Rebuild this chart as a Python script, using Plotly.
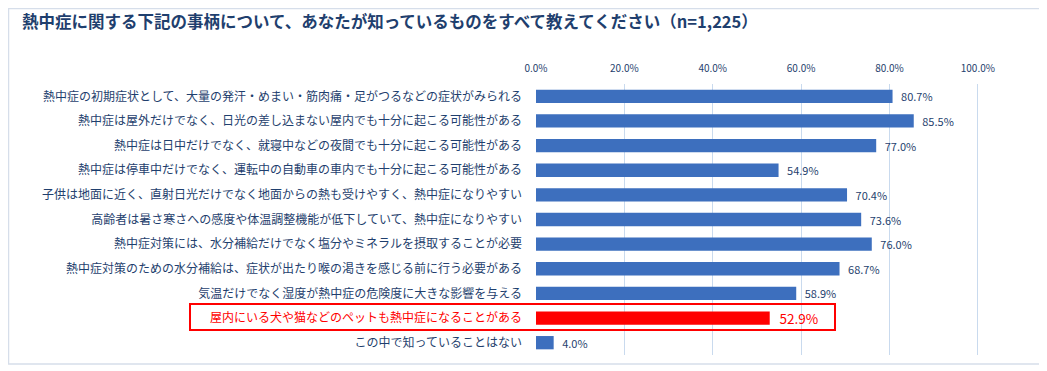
import plotly.graph_objects as go

categories = [
    "熱中症の初期症状として、大量の発汗・めまい・筋肉痛・足がつるなどの症状がみられる",
    "熱中症は屋外だけでなく、日光の差し込まない屋内でも十分に起こる可能性がある",
    "熱中症は日中だけでなく、就寝中などの夜間でも十分に起こる可能性がある",
    "熱中症は停車中だけでなく、運転中の自動車の車内でも十分に起こる可能性がある",
    "子供は地面に近く、直射日光だけでなく地面からの熱も受けやすく、熱中症になりやすい",
    "高齢者は暑さ寒さへの感度や体温調整機能が低下していて、熱中症になりやすい",
    "熱中症対策には、水分補給だけでなく塩分やミネラルを摂取することが必要",
    "熱中症対策のための水分補給は、症状が出たり喉の渇きを感じる前に行う必要がある",
    "気温だけでなく湿度が熱中症の危険度に大きな影響を与える",
    "屋内にいる犬や猫などのペットも熱中症になることがある",
    "この中で知っていることはない",
]
values = [80.7, 85.5, 77.0, 54.9, 70.4, 73.6, 76.0, 68.7, 58.9, 52.9, 4.0]
highlight_index = 9
tick_vals = [0, 20, 40, 60, 80, 100]
tick_text = ["0.0%", "20.0%", "40.0%", "60.0%", "80.0%", "100.0%"]
title_text = "熱中症に関する下記の事柄について、あなたが知っているものをすべて教えてください（n=1,225）"

BLUE = "#3D6FBE"
NAVY = "#1F3F6E"
RED = "#FF0000"
FONT = "Noto Sans CJK JP"

colors = [RED if i == highlight_index else BLUE for i in range(len(values))]
tcolors = [RED if i == highlight_index else NAVY for i in range(len(values))]
tsizes = [13.5 if i == highlight_index else 11 for i in range(len(values))]
ticklabels = [
    (f"<span style='color:{RED}'>{c}</span>" if i == highlight_index else c)
    for i, c in enumerate(categories)
]

fig = go.Figure(
    go.Bar(
        x=values,
        y=list(range(len(values))),
        orientation="h",
        marker=dict(color=colors, line=dict(width=0)),
        width=0.54,
        text=[f"{v:.1f}%" for v in values],
        texttemplate="\u2002%{text}",
        textposition="outside",
        constraintext="none",
        textfont=dict(color=tcolors, size=tsizes, family=FONT),
        cliponaxis=False,
        hoverinfo="skip",
    )
)

# page body has an 8px margin; work in reference pixels shifted by OFF
OFF = 8
W, H = 1047 - OFF, 371 - OFF
L, R, T, B = 536 - OFF, 1022 - OFF, 84 - OFF, 355 - OFF


def px(x):
    return (x - OFF - L) / (R - L)


def py(y):
    return (B - (y - OFF)) / (B - T)


fig.update_layout(
    width=W,
    height=H,
    margin=dict(l=L, r=W - R, t=T, b=H - B, autoexpand=False),
    paper_bgcolor="white",
    plot_bgcolor="white",
    showlegend=False,
    font=dict(family=FONT, color=NAVY),
    title=dict(
        text=f"<b>{title_text}</b>",
        x=(22 - OFF) / W,
        xanchor="left",
        y=1 - (22 - OFF) / H,
        yanchor="middle",
        font=dict(size=16.5, color=NAVY, family=FONT),
    ),
    xaxis=dict(
        range=[0, 110],
        side="top",
        tickvals=tick_vals,
        ticktext=tick_text,
        tickfont=dict(size=10, color=NAVY),
        ticklabelstandoff=9,
        showgrid=True,
        gridcolor="#C9DAEE",
        gridwidth=1,
        zeroline=False,
        showline=False,
        ticks="",
        automargin=False,
    ),
    yaxis=dict(
        autorange="reversed",
        tickvals=list(range(len(categories))),
        ticktext=ticklabels,
        tickfont=dict(size=12, color=NAVY),
        showgrid=False,
        zeroline=False,
        ticks="",
        ticklabelstandoff=13,
        automargin=False,
    ),
    shapes=[
        dict(type="rect", xref="paper", yref="paper",
             x0=px(8.5), x1=px(1040), y0=py(8.5), y1=py(364),
             line=dict(color="#D6DEEA", width=1.5), fillcolor="rgba(0,0,0,0)", layer="below"),
        dict(type="rect", xref="paper", yref="paper",
             x0=px(190), x1=px(835), y0=py(304), y1=py(330),
             line=dict(color=RED, width=2), fillcolor="rgba(0,0,0,0)"),
    ],
)

fig.write_html("out.html")
